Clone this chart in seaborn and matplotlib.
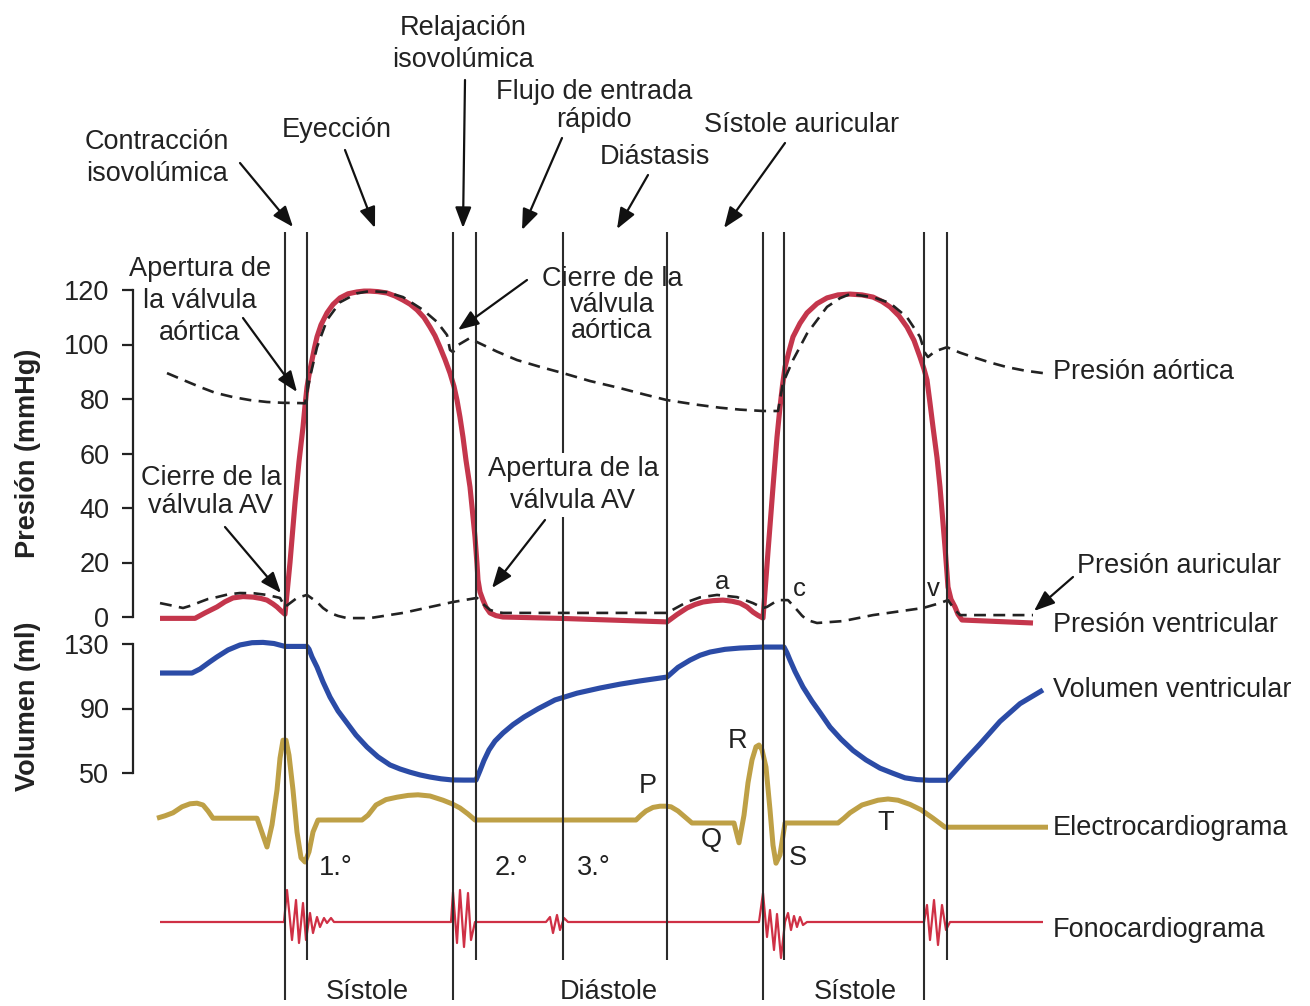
import matplotlib
matplotlib.use("Agg")
import matplotlib.pyplot as plt
import seaborn as sns


# figure size in pixels (dpi 100)
FIG_W = 1310
FIG_H = 1006

# all traces share one time scale (same units as the figure width)
# ventricular pressure (mmHg)
vent_t = [160, 195, 205, 217, 225, 233, 243, 253, 261, 267, 273, 277, 281, 285,
          290, 295, 299, 303, 305, 307, 309.5, 312, 314.5, 317, 321, 327, 333, 340, 348,
          357, 364, 370, 378, 387, 395, 403, 410, 417, 424, 430, 435, 440, 445, 450,
          454, 457, 460, 463, 466, 470, 473, 475, 477, 478, 480, 483, 486, 490, 496,
          503, 560, 667, 677, 687, 695, 703, 713, 723, 732, 740, 747, 753, 758, 763,
          768, 773, 777, 780, 782.5, 785, 789, 793, 800, 807, 817, 827, 838, 850, 862,
          873, 882, 890, 899, 907, 914, 920, 924, 927, 930, 933, 937, 940, 943, 945,
          947, 948, 951, 955, 958, 962, 1033]
vent_p = [-0.5, -0.5, 1.5, 3.7, 5.6, 7.0, 7.5, 7.3, 6.8, 6.2, 4.8, 3.7, 2.3, 1.0,
          20.0, 41.8, 57.0, 69.7, 77.5, 84.4, 89.8, 94.3, 98.8, 102.8, 107.2, 111.6, 114.7, 117.1, 118.6,
          119.3, 119.6, 119.6, 119.4, 118.9, 117.8, 116.3, 114.8, 112.7, 109.9, 106.4, 103.2, 99.0, 94.5, 89.5,
          84.6, 79.6, 73.3, 66.0, 57.5, 47.7, 36.8, 29.4, 19.5, 13.6, 9.2, 6.2, 3.6, 1.5, 0.5,
          0.0, -0.5, -1.8, 0.9, 3.3, 4.6, 5.5, 6.0, 6.2, 5.8, 5.1, 3.7, 1.8, 0.6, -0.4,
          24.0, 47.7, 66.0, 77.0, 85.0, 91.7, 97.5, 102.8, 107.8, 111.6, 115.0, 117.1, 118.2, 118.5, 118.2,
          117.4, 115.8, 113.8, 110.5, 106.4, 101.5, 95.4, 91.0, 87.0, 78.5, 69.7, 58.5, 47.7, 34.5, 25.7,
          16.0, 11.0, 6.5, 3.7, 1.0, -1.1, -2.2]

# aortic pressure (mmHg)
aorta_t = [167, 185, 200, 215, 233, 250, 267, 283, 300, 305, 310, 317, 327, 340, 357,
           370, 387, 403, 423, 437, 447, 450, 453, 458, 470, 477, 497, 517, 540, 563,
           590, 620, 645, 667, 695, 720, 740, 763, 778, 783, 793, 807, 827, 840, 850,
           873, 890, 907, 920, 925, 928, 935, 947, 960, 973, 990, 1007, 1025, 1043]
aorta_p = [89.5, 86.7, 84.4, 82.3, 80.7, 79.6, 78.9, 78.6, 78.5, 78.4, 88.0, 99.0, 109.0, 115.5, 118.8,
           119.6, 119.2, 117.4, 112.7, 108.3, 103.5, 98.0, 97.2, 99.8, 102.4, 100.9, 97.4, 94.3, 91.8, 89.5,
           86.6, 84.0, 81.6, 79.6, 78.0, 76.8, 76.1, 75.6, 75.6, 85.9, 94.3, 104.0, 113.8, 117.0, 118.5,
           117.4, 115.2, 110.0, 102.8, 96.9, 95.4, 97.5, 99.0, 97.0, 95.4, 93.4, 91.7, 90.4, 89.5]

# atrial pressure (mmHg)
atrial_t = [160, 172, 183, 192, 200, 208, 217, 228, 240, 254, 267, 280, 285, 297, 307,
            317, 323, 330, 338, 347, 370, 403, 453, 477, 483, 490, 497, 503, 667, 677,
            687, 700, 717, 737, 753, 763, 767, 778, 788, 797, 802, 807, 817, 843, 873,
            923, 940, 948, 954, 960, 1033]
atrial_p = [5.1, 4.2, 3.3, 4.3, 5.5, 6.6, 7.3, 8.3, 8.8, 8.7, 8.1, 7.0, 3.7, 7.0, 8.1,
            5.5, 3.3, 1.5, 0.4, -0.4, -0.4, 1.5, 5.5, 7.0, 4.8, 2.6, 1.8, 1.5, 1.5, 3.5,
            5.5, 7.2, 8.1, 7.3, 5.1, 3.3, 3.7, 6.2, 6.2, 2.6, 0.5, -1.1, -2.2, -1.5, 0.7,
            3.3, 5.1, 6.2, 3.0, 0.7, 0.7]

# ventricular volume (ml)
vol_t = [160, 192, 200, 210, 217, 228, 240, 252, 263, 274, 285, 307, 309, 312, 317,
         323, 330, 338, 347, 356, 367, 378, 390, 400, 410, 420, 430, 441, 452, 464,
         476, 478, 480, 484, 489, 495, 503, 513, 524, 538, 555, 577, 600, 620, 640,
         667, 678, 690, 700, 710, 725, 740, 763, 784, 787, 790, 795, 803, 812, 820,
         830, 841, 853, 866, 880, 893, 905, 917, 929, 947, 955, 965, 980, 1000, 1020, 1043]
vol_v = [112.0, 112.0, 114.5, 119.0, 122.0, 126.3, 129.4, 130.8, 131.0, 130.3, 128.5, 128.5, 126.8, 122.0, 115.7,
         106.5, 97.1, 88.5, 81.0, 73.5, 66.1, 60.0, 55.0, 52.5, 50.5, 48.8, 47.5, 46.4, 45.7, 45.6,
         45.6, 48.5, 51.5, 57.8, 64.3, 69.8, 74.8, 80.0, 84.7, 89.8, 95.3, 99.5, 102.7, 105.1, 107.1,
         109.5, 115.5, 120.0, 123.0, 125.0, 126.7, 127.5, 128.1, 128.1, 124.5, 120.0, 113.0, 103.3, 94.5, 87.5,
         78.5, 71.0, 64.0, 58.1, 53.0, 49.8, 47.0, 45.9, 45.5, 45.5, 51.0, 58.0, 68.0, 82.0, 93.0, 101.5]

# electrocardiogram (mV)
ecg_t = [157, 165, 173, 182, 190, 197, 203, 208, 213, 257, 267, 272, 277, 280, 283,
         286, 289, 293, 297, 301, 305, 309, 313, 318, 362, 368, 376, 386, 397, 408,
         418, 430, 443, 452, 460, 468, 475, 636, 641, 646, 653, 660, 666, 671, 678,
         685, 692, 734, 739, 744, 748, 752, 756, 759, 762, 766, 770, 773, 776, 780,
         785, 838, 844, 850, 862, 878, 888, 898, 910, 921, 933, 945, 1048]
ecg_mv = [0.03, 0.07, 0.12, 0.22, 0.27, 0.28, 0.25, 0.15, 0.03, 0.03, -0.45, -0.08, 0.5, 1.03, 1.33,
          1.33, 1.08, 0.5, -0.2, -0.63, -0.7, -0.53, -0.2, 0.0, 0.0, 0.08, 0.25, 0.34, 0.38, 0.41,
          0.42, 0.4, 0.33, 0.27, 0.2, 0.1, 0.0, 0.0, 0.08, 0.15, 0.21, 0.23, 0.23, 0.22, 0.15,
          0.05, -0.05, -0.05, -0.38, 0.08, 0.62, 1.0, 1.22, 1.25, 1.17, 0.88, 0.17, -0.42, -0.72, -0.58,
          -0.05, -0.05, 0.03, 0.12, 0.25, 0.33, 0.35, 0.33, 0.26, 0.17, 0.03, -0.12, -0.12]

# phonocardiogram (arbitrary units)
phono_t = [160, 284, 287, 292, 296, 299, 303, 306, 310, 313, 317, 320, 324, 327, 331, 334,
           451, 453, 457, 460, 464, 468, 471, 475,
           546, 550, 553, 557, 560, 564, 568,
           759, 763, 767, 770, 774, 777, 781, 785, 788, 791, 794, 797, 800, 803, 807,
           924, 927, 930, 934, 938, 942, 946, 950, 1043]
phono_v = [0, 0, 3.2, -1.8, 2.2, -2.1, 1.9, -1.8, 0.9, -1.1, 0.5, -0.5, 0.4, -0.1, 0.4, 0,
           0, 3.0, -2.1, 3.2, -2.5, 2.9, -1.8, 0,
           0, 0.5, -1.1, 0.7, -0.8, 0.4, 0,
           0, 2.9, -1.5, 1.2, -2.8, 0.8, -3.6, 0, 0.9, -0.8, 0.6, -0.5, 0.5, -0.3, 0,
           0, 1.7, -1.8, 2.2, -2.3, 1.7, -0.8, 0, 0]

# event markers (valve openings / closings, phase borders)
event_t = [285, 307, 453, 476, 563, 667, 763, 784, 924, 947]
event_long = [True, False, True, False, False, False, True, False, True, False]

pressure_ticks = [0, 20, 40, 60, 80, 100, 120]
volume_ticks = [50, 90, 130]

RED = "#c4364c"
BLUE = "#2b4ba6"
GOLD = "#bea046"
PHONO = "#cf3045"
INK = "#222222"
FS = 19.5


def band_axes(fig, top_px, bottom_px):
    ax = fig.add_axes([0, 1 - bottom_px / FIG_H, 1, (bottom_px - top_px) / FIG_H])
    ax.patch.set_visible(False)
    for s in ax.spines.values():
        s.set_visible(False)
    return ax


def finish(ax, top_val, bottom_val):
    ax.set_xlim(0, FIG_W)
    ax.set_ylim(bottom_val, top_val)
    ax.set_xticks([])
    ax.set_yticks([])
    ax.set_xlabel("")
    ax.set_ylabel("")


def scale_spine(ax, ticks):
    sp = ax.spines["left"]
    sp.set_visible(True)
    sp.set_position(("data", 133))
    sp.set_bounds(ticks[0], ticks[-1])
    sp.set_linewidth(1.6)
    sp.set_color(INK)
    ax.set_yticks(ticks)
    ax.set_yticklabels([str(v) for v in ticks])
    ax.tick_params(axis="y", which="major", direction="out", length=8, width=1.6,
                   pad=9, labelsize=FS, colors=INK, left=True)
    ax.set_yticks([ticks[0], ticks[-1]], minor=True)
    ax.tick_params(axis="y", which="minor", direction="in", length=4.5, width=1.6,
                   colors=INK, left=True)


def trace(ax, t, v, color, lw, **kw):
    sns.lineplot(x=t, y=v, ax=ax, color=color, lw=lw, sort=False, estimator=None,
                 clip_on=False, solid_joinstyle="round", solid_capstyle="butt", **kw)


def main():
    sns.set_theme(style="white")
    plt.rcParams["font.family"] = ["Liberation Sans", "DejaVu Sans"]

    fig = plt.figure(figsize=(FIG_W / 100, FIG_H / 100), dpi=100)

    # pressure panel: 120 mmHg at 290 px, 0 at 617 px
    ax_p = band_axes(fig, 290, 617)
    trace(ax_p, vent_t, vent_p, RED, 3.7)
    trace(ax_p, aorta_t, aorta_p, INK, 1.9, linestyle=(0, (4.5, 2.8)))
    trace(ax_p, atrial_t, atrial_p, INK, 1.9, linestyle=(0, (4.5, 2.8)))
    finish(ax_p, 120, 0)
    scale_spine(ax_p, pressure_ticks)

    # volume panel: 130 ml at 644 px, 50 at 773 px
    ax_v = band_axes(fig, 644, 773)
    trace(ax_v, vol_t, vol_v, BLUE, 3.7)
    finish(ax_v, 130, 50)
    scale_spine(ax_v, volume_ticks)

    # ECG panel (1 mV = 60 px, baseline at 820 px)
    ax_e = band_axes(fig, 700, 880)
    trace(ax_e, ecg_t, ecg_mv, GOLD, 3.6)
    finish(ax_e, 2, -1)

    # phonocardiogram panel (1 unit = 10 px, baseline at 922 px)
    ax_f = band_axes(fig, 872, 972)
    trace(ax_f, phono_t, phono_v, PHONO, 1.6)
    finish(ax_f, 5, -5)

    # overlay in pixel units for event lines and labels
    ov = fig.add_axes([0, 0, 1, 1])
    ov.set_xlim(0, FIG_W)
    ov.set_ylim(FIG_H, 0)
    ov.axis("off")
    ends = [1000 if lng else 960 for lng in event_long]
    ov.vlines(event_t, 232, ends, colors="#2b2b2b", lw=1.5, zorder=1)

    def label(x, y, s, ls=1.3, ha="center", box=False, size=FS):
        bbox = dict(facecolor="white", edgecolor="none", pad=2) if box else None
        ov.text(x, y, s, ha=ha, va="center", fontsize=size, color=INK,
                linespacing=ls, bbox=bbox, zorder=5)

    def arrow(x0, y0, x1, y1):
        ov.annotate("", xy=(x1, y1), xytext=(x0, y0), zorder=6,
                    arrowprops=dict(arrowstyle="-|>,head_length=0.9,head_width=0.35",
                                    color="#111111", lw=1.6, shrinkA=0, shrinkB=0,
                                    mutation_scale=14))

    # phases at the top
    label(463, 44, "Relajación\nisovolúmica")
    arrow(465, 80, 463, 228)
    label(594, 106, "Flujo de entrada\nrápido", ls=1.1)
    arrow(562, 138, 522, 230)
    label(337, 130, "Eyección")
    arrow(345, 150, 375, 228)
    label(157, 158, "Contracción\nisovolúmica")
    arrow(240, 163, 293, 227)
    label(802, 125, "Sístole auricular")
    arrow(785, 143, 724, 228)
    label(655, 157, "Diástasis")
    arrow(648, 175, 617, 229)

    # valve events
    label(200, 301, "Apertura de\nla válvula\naórtica")
    arrow(243, 318, 297, 392)
    label(612, 305, "Cierre de la\nválvula\naórtica", ls=1.0)
    arrow(527, 280, 458, 330)
    label(211, 492, "Cierre de la\nválvula AV", ls=1.1)
    arrow(225, 527, 281, 593)
    label(573, 485, "Apertura de la\nválvula AV", box=True)
    arrow(545, 520, 492, 588)

    # atrial pressure waves
    label(722, 582, "a", size=FS - 1)
    label(799, 589, "c", size=FS - 1)
    label(933, 589, "v", size=FS - 1)

    # trace names on the right
    label(1053, 372, "Presión aórtica", ha="left")
    label(1077, 566, "Presión auricular", ha="left")
    arrow(1073, 577, 1034, 611)
    label(1053, 625, "Presión ventricular", ha="left")
    label(1053, 690, "Volumen ventricular", ha="left")
    label(1053, 828, "Electrocardiograma", ha="left")
    label(1053, 930, "Fonocardiograma", ha="left")

    # ECG waves
    label(648, 786, "P")
    label(738, 741, "R")
    label(711, 840, "Q")
    label(798, 858, "S")
    label(886, 823, "T")

    # heart sounds
    label(336, 868, "1.°")
    label(511, 868, "2.°")
    label(594, 868, "3.°")

    # cycle phases at the bottom
    label(367, 992, "Sístole")
    label(609, 992, "Diástole")
    label(855, 992, "Sístole")

    # axis titles
    ov.text(28, 453, "Presión (mmHg)", rotation=90, ha="center", va="center",
            fontsize=FS, fontweight="bold", color=INK)
    ov.text(28, 706, "Volumen (ml)", rotation=90, ha="center", va="center",
            fontsize=FS, fontweight="bold", color=INK)

    fig.savefig("out.png", dpi=100)
    plt.close(fig)


if __name__ == "__main__":
    main()
